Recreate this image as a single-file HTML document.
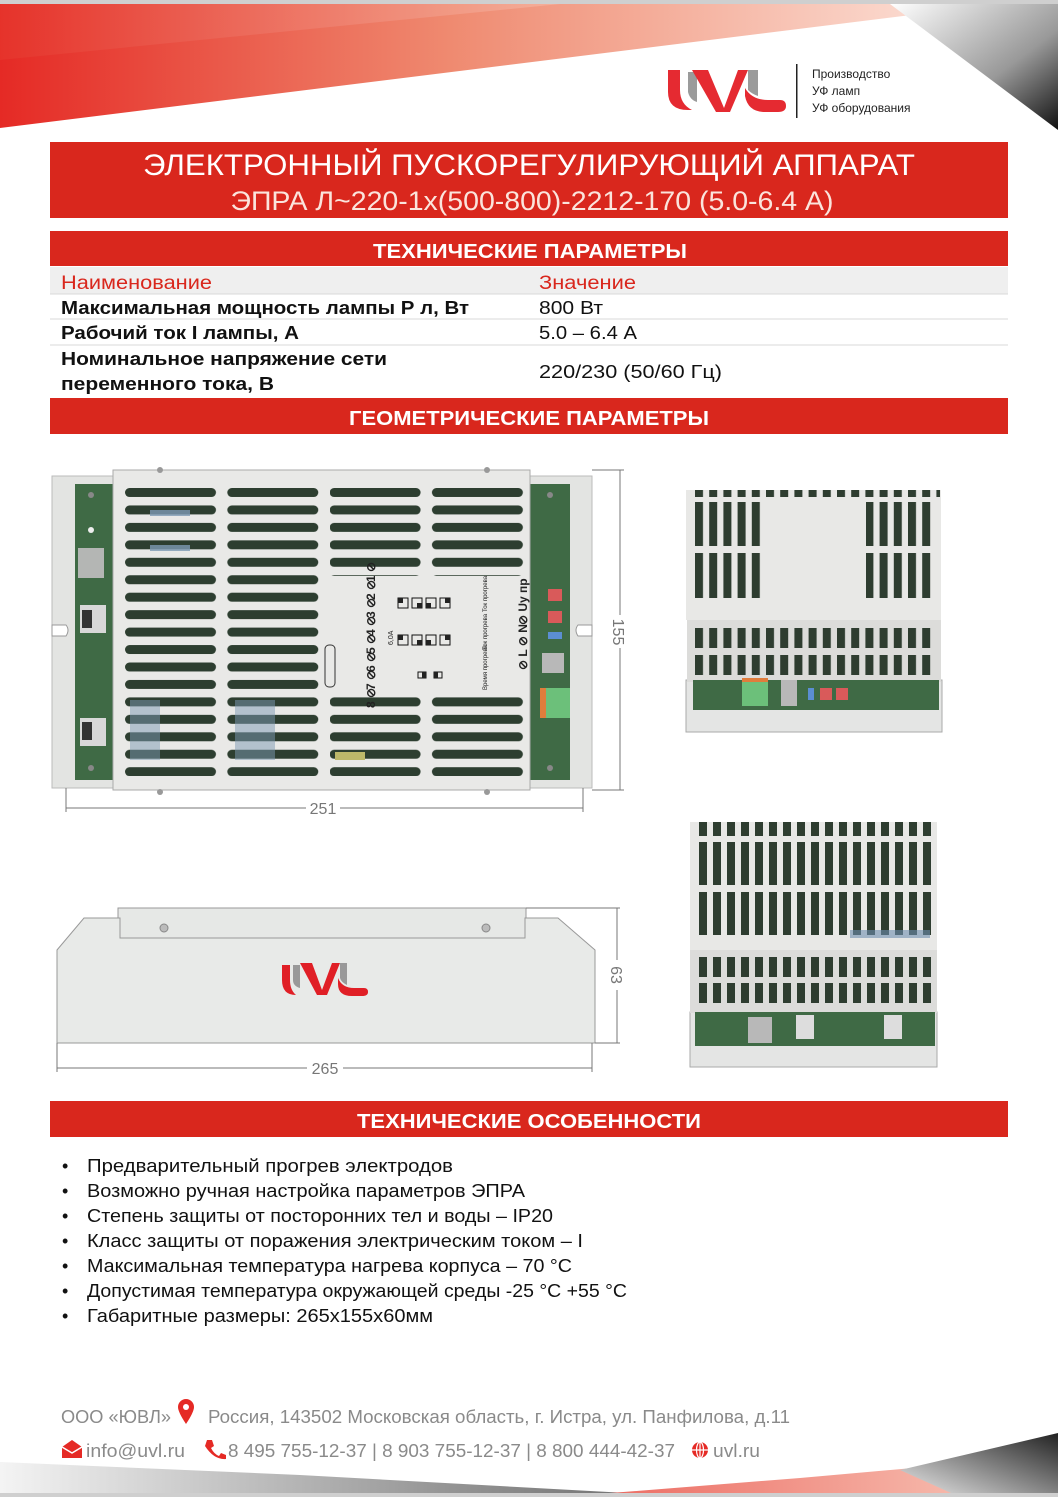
<!DOCTYPE html>
<html><head><meta charset="utf-8"><style>
html,body{margin:0;padding:0;background:#fff}
svg{display:block}
text{font-family:"Liberation Sans",sans-serif}
</style></head><body>
<svg width="1058" height="1497" viewBox="0 0 1058 1497" xmlns="http://www.w3.org/2000/svg">
<defs>
<linearGradient id="rg" x1="0" y1="0" x2="1" y2="0">
<stop offset="0" stop-color="#e52a25"/><stop offset="0.45" stop-color="#ef8a70"/><stop offset="1" stop-color="#fde8e0"/></linearGradient>
<linearGradient id="rg2" x1="0" y1="0" x2="1" y2="0">
<stop offset="0" stop-color="#e63b30"/><stop offset="1" stop-color="#f7c2b0"/></linearGradient>
<linearGradient id="gk" x1="0" y1="0" x2="1" y2="1">
<stop offset="0" stop-color="#ffffff"/><stop offset="0.6" stop-color="#999"/><stop offset="1" stop-color="#111"/></linearGradient>
<linearGradient id="gb" x1="0" y1="0" x2="1" y2="0">
<stop offset="0" stop-color="#f4f4f4"/><stop offset="0.6" stop-color="#9a9a9a"/><stop offset="1" stop-color="#666"/></linearGradient>
<linearGradient id="gk2" x1="0" y1="1" x2="1" y2="0">
<stop offset="0" stop-color="#eee"/><stop offset="1" stop-color="#222"/></linearGradient>
<pattern id="sl" patternUnits="userSpaceOnUse" x="125" y="488" width="102.3" height="17.45">
<rect x="0" y="0" width="91" height="9" rx="4.5" fill="#2d3e30"/></pattern>
<pattern id="vs" patternUnits="userSpaceOnUse" x="695" y="0" width="14.2" height="2000">
<rect x="0" y="0" width="8" height="2000" fill="#2e3d30"/></pattern>
<pattern id="vs2" patternUnits="userSpaceOnUse" x="699" y="0" width="14" height="2000">
<rect x="0" y="0" width="8" height="2000" fill="#2e3d30"/></pattern>
</defs>

<!-- top decoration -->
<rect x="0" y="0" width="1058" height="4" fill="#cfcfcf"/>
<polygon points="0,4 1000,4 0,128" fill="url(#rg)"/>
<polygon points="0,4 560,4 0,60" fill="url(#rg2)" opacity="0.5"/>
<polygon points="890,4 1058,4 1058,130" fill="url(#gk)"/>

<!-- logo -->
<g>
<path d="M668 70 L668 92 Q668 110 688 110 L692 110 Q680 104 680 90 L680 70 Z" fill="#e52a31"/>
<path d="M688 72 L697 72 L697 102 Q690 100 688 92 Z" fill="#9b9b9b"/>
<path d="M692 70 L708 70 L724 108 L738 70 L748 70 L730 112 L716 112 Z" fill="#e52a31"/>
<path d="M748 70 L758 70 L758 96 Q752 94 748 90 Z" fill="#9b9b9b"/>
<path d="M745 88 Q752 100 768 100 L780 100 Q786 100 786 106 Q786 112 778 112 L765 112 Q748 112 745 96 Z" fill="#e52a31"/>
<rect x="796" y="64" width="1.5" height="54" fill="#222"/>
<text x="812" y="78" font-size="12" fill="#222">Производство</text>
<text x="812" y="95" font-size="12" fill="#222">УФ ламп</text>
<text x="812" y="112" font-size="12" fill="#222">УФ оборудования</text>
</g>

<!-- title band -->
<rect x="50" y="142" width="958" height="76" fill="#d9271d"/>
<text x="529" y="175" font-size="30" fill="#fff" text-anchor="middle" textLength="772" lengthAdjust="spacingAndGlyphs">ЭЛЕКТРОННЫЙ ПУСКОРЕГУЛИРУЮЩИЙ АППАРАТ</text>
<text x="532" y="210" font-size="27" fill="#fbe4dc" text-anchor="middle" textLength="603" lengthAdjust="spacingAndGlyphs">ЭПРА Л~220-1х(500-800)-2212-170 (5.0-6.4 А)</text>

<!-- tech params -->
<rect x="50" y="231" width="958" height="35" fill="#d9271d"/>
<text x="530" y="258" font-size="20" font-weight="bold" fill="#fff" text-anchor="middle" textLength="314" lengthAdjust="spacingAndGlyphs">ТЕХНИЧЕСКИЕ ПАРАМЕТРЫ</text>
<rect x="50" y="267" width="958" height="27" fill="#efefef"/>
<line x1="50" y1="294" x2="1008" y2="294" stroke="#d8d8d8"/>
<line x1="50" y1="319" x2="1008" y2="319" stroke="#d8d8d8"/>
<line x1="50" y1="345" x2="1008" y2="345" stroke="#d8d8d8"/>
<text x="61" y="289" font-size="19" fill="#d9271d" textLength="151" lengthAdjust="spacingAndGlyphs">Наименование</text>
<text x="539" y="289" font-size="19" fill="#d9271d" textLength="97" lengthAdjust="spacingAndGlyphs">Значение</text>
<g font-size="18" fill="#111" font-weight="bold">
<text x="61" y="314" textLength="408" lengthAdjust="spacingAndGlyphs">Максимальная мощность лампы Р л, Вт</text>
<text x="61" y="339" textLength="238" lengthAdjust="spacingAndGlyphs">Рабочий ток I лампы, А</text>
<text x="61" y="365" textLength="326" lengthAdjust="spacingAndGlyphs">Номинальное напряжение сети</text>
<text x="61" y="390" textLength="213" lengthAdjust="spacingAndGlyphs">переменного тока, В</text>
</g>
<g font-size="18" fill="#111">
<text x="539" y="314" textLength="64" lengthAdjust="spacingAndGlyphs">800 Вт</text>
<text x="539" y="339" textLength="98" lengthAdjust="spacingAndGlyphs">5.0 – 6.4 А</text>
<text x="539" y="378" textLength="183" lengthAdjust="spacingAndGlyphs">220/230 (50/60 Гц)</text>
</g>
<rect x="50" y="398" width="958" height="36" fill="#d9271d"/>
<text x="529" y="425" font-size="20" font-weight="bold" fill="#fff" text-anchor="middle" textLength="360" lengthAdjust="spacingAndGlyphs">ГЕОМЕТРИЧЕСКИЕ ПАРАМЕТРЫ</text>

<!-- top view drawing -->
<g>
<rect x="52" y="476" width="540" height="312" fill="#e3e4e2" stroke="#bbb"/>
<rect x="75" y="484" width="40" height="296" fill="#3f6a45"/>
<rect x="530" y="484" width="40" height="296" fill="#3f6a45"/>
<rect x="113" y="470" width="417" height="320" fill="#e9e9e7" stroke="#aaa"/>
<rect x="125" y="488" width="195" height="288" fill="url(#sl)"/>
<rect x="330" y="488" width="195" height="88" fill="url(#sl)"/>
<rect x="330" y="697" width="195" height="79" fill="url(#sl)"/>
<rect x="150" y="510" width="40" height="6" fill="#7d9ab4" opacity="0.8"/>
<rect x="150" y="545" width="40" height="6" fill="#7d9ab4" opacity="0.8"/>
<rect x="130" y="700" width="30" height="60" fill="#7d9ab4" opacity="0.5"/>
<rect x="235" y="700" width="40" height="60" fill="#7d9ab4" opacity="0.5"/>
<rect x="335" y="752" width="30" height="8" fill="#bdb86a"/>
<g fill="#222" font-size="11">
<text x="393" y="645" font-size="7" transform="rotate(-90 393 645)">6,0А</text>
<rect x="398" y="598" width="10" height="10" fill="none" stroke="#111"/><rect x="398" y="598" width="5" height="5"/>
<rect x="412" y="598" width="10" height="10" fill="none" stroke="#111"/><rect x="417" y="603" width="5" height="5"/>
<rect x="426" y="598" width="10" height="10" fill="none" stroke="#111"/><rect x="426" y="603" width="5" height="5"/>
<rect x="440" y="598" width="10" height="10" fill="none" stroke="#111"/><rect x="445" y="598" width="5" height="5"/>
<rect x="398" y="635" width="10" height="10" fill="none" stroke="#111"/><rect x="398" y="635" width="5" height="5"/>
<rect x="412" y="635" width="10" height="10" fill="none" stroke="#111"/><rect x="417" y="640" width="5" height="5"/>
<rect x="426" y="635" width="10" height="10" fill="none" stroke="#111"/><rect x="426" y="640" width="5" height="5"/>
<rect x="440" y="635" width="10" height="10" fill="none" stroke="#111"/><rect x="445" y="635" width="5" height="5"/>
<rect x="418" y="672" width="8" height="6" fill="none" stroke="#111"/><rect x="422" y="672" width="4" height="6"/>
<rect x="434" y="672" width="8" height="6" fill="none" stroke="#111"/><rect x="434" y="672" width="4" height="6"/>
<rect x="325" y="645" width="10" height="42" rx="4" fill="none" stroke="#333"/>
<g font-size="12" font-weight="bold">
<text x="375" y="582" transform="rotate(-90 375 582)">1 ⊘</text>
<text x="375" y="600" transform="rotate(-90 375 600)">2 ⊘</text>
<text x="375" y="618" transform="rotate(-90 375 618)">3 ⊘</text>
<text x="375" y="636" transform="rotate(-90 375 636)">4 ⊘</text>
<text x="375" y="654" transform="rotate(-90 375 654)">5 ⊘</text>
<text x="375" y="672" transform="rotate(-90 375 672)">6 ⊘</text>
<text x="375" y="690" transform="rotate(-90 375 690)">7 ⊘</text>
<text x="375" y="708" transform="rotate(-90 375 708)">8 ⊘</text>
<text x="527" y="625" transform="rotate(-90 527 625)">⊘ Uу пр</text>
<text x="527" y="670" transform="rotate(-90 527 670)">⊘ L ⊘ N</text>
</g>
<text x="487" y="612" font-size="6" transform="rotate(-90 487 612)">Ток прогрева</text>
<text x="487" y="650" font-size="6" transform="rotate(-90 487 650)">Ток прогрева</text>
<text x="487" y="690" font-size="6" transform="rotate(-90 487 690)">Время прогрева</text>
</g>
<rect x="78" y="548" width="26" height="30" fill="#b4b6b4"/>
<rect x="80" y="605" width="26" height="28" fill="#d8d8d8"/><rect x="82" y="610" width="10" height="18" fill="#333"/>
<rect x="80" y="718" width="26" height="28" fill="#d8d8d8"/><rect x="82" y="722" width="10" height="18" fill="#333"/>
<rect x="548" y="589" width="14" height="12" fill="#d95a5a"/>
<rect x="548" y="611" width="14" height="12" fill="#d95a5a"/>
<rect x="548" y="632" width="14" height="7" fill="#5b8ed2"/>
<rect x="542" y="653" width="22" height="20" fill="#b8b8b8"/>
<rect x="540" y="688" width="30" height="30" fill="#6cc07a"/><rect x="540" y="688" width="6" height="30" fill="#e07d3c"/>
<circle cx="91" cy="495" r="3" fill="#888"/><circle cx="91" cy="768" r="3" fill="#888"/>
<circle cx="550" cy="495" r="3" fill="#888"/><circle cx="550" cy="768" r="3" fill="#888"/>
<circle cx="91" cy="530" r="3" fill="#eee"/>
<path d="M52 625 L66 625 Q70 630 66 636 L52 636 Z" fill="#fff" stroke="#999"/>
<path d="M592 625 L578 625 Q574 630 578 636 L592 636 Z" fill="#fff" stroke="#999"/>
<circle cx="160" cy="470" r="3" fill="#999"/><circle cx="487" cy="470" r="3" fill="#999"/>
<circle cx="160" cy="792" r="3" fill="#999"/><circle cx="487" cy="792" r="3" fill="#999"/>
<g stroke="#777" stroke-width="1" fill="none">
<line x1="66" y1="788" x2="66" y2="812"/><line x1="583" y1="788" x2="583" y2="812"/>
<line x1="66" y1="808" x2="306" y2="808"/><line x1="340" y1="808" x2="583" y2="808"/>
<line x1="592" y1="470" x2="624" y2="470"/><line x1="592" y1="790" x2="624" y2="790"/>
<line x1="620" y1="470" x2="620" y2="615"/><line x1="620" y1="648" x2="620" y2="790"/>
</g>
<text x="323" y="814" font-size="16" fill="#777" text-anchor="middle">251</text>
<text x="613" y="632" font-size="16" fill="#777" text-anchor="middle" transform="rotate(90 613 632)">155</text>
</g>

<!-- side view -->
<g>
<rect x="118" y="908" width="408" height="30" fill="#e6e8e6" stroke="#999"/>
<polygon points="57,950 84,918 120,918 120,938 525,938 525,918 558,918 595,950 595,1043 57,1043" fill="#e8eae8" stroke="#999"/>
<circle cx="164" cy="928" r="4" fill="#bbb" stroke="#888"/><circle cx="486" cy="928" r="4" fill="#bbb" stroke="#888"/>
<path d="M282 965 L282 980 Q282 995 296 995 Q290 990 290 980 L290 965 Z" fill="#e01f26"/>
<path d="M293 965 L300 965 L300 988 Q293 986 293 980 Z" fill="#999"/>
<path d="M300 963 L312 963 L322 990 L332 963 L340 963 L327 995 L317 995 Z" fill="#e01f26"/>
<path d="M340 963 L347 963 L347 985 Q341 982 340 978 Z" fill="#999"/>
<path d="M338 978 Q342 988 354 988 L364 988 Q368 988 368 992 Q368 996 362 996 L352 996 Q338 996 338 984 Z" fill="#e01f26"/>
<g stroke="#777" fill="none">
<line x1="57" y1="1043" x2="57" y2="1072"/><line x1="592" y1="1043" x2="592" y2="1072"/>
<line x1="57" y1="1068" x2="307" y2="1068"/><line x1="343" y1="1068" x2="592" y2="1068"/>
<line x1="526" y1="908" x2="620" y2="908"/><line x1="595" y1="1043" x2="620" y2="1043"/>
<line x1="617" y1="908" x2="617" y2="960"/><line x1="617" y1="990" x2="617" y2="1043"/>
</g>
<text x="325" y="1074" font-size="16" fill="#777" text-anchor="middle">265</text>
<text x="611" y="975" font-size="16" fill="#777" text-anchor="middle" transform="rotate(90 611 975)">63</text>
</g>

<!-- right top view -->
<g>
<rect x="686" y="680" width="256" height="52" fill="#e4e5e4" stroke="#aaa"/>
<rect x="686" y="490" width="255" height="130" fill="#e8e8e6"/>
<rect x="695" y="490" width="245" height="7" fill="url(#vs)"/>
<rect x="695" y="502" width="68" height="44" fill="url(#vs)"/>
<rect x="695" y="553" width="68" height="45" fill="url(#vs)"/>
<rect x="866" y="502" width="70" height="44" fill="url(#vs)"/>
<rect x="866" y="553" width="70" height="45" fill="url(#vs)"/>
<rect x="687" y="620" width="254" height="62" fill="#dcdcda"/>
<rect x="695" y="628" width="240" height="20" fill="url(#vs)"/>
<rect x="695" y="655" width="240" height="20" fill="url(#vs)"/>
<rect x="693" y="680" width="246" height="30" fill="#3f6a45"/>
<rect x="742" y="680" width="26" height="26" fill="#6cc07a"/><rect x="742" y="678" width="26" height="4" fill="#e07d3c"/>
<rect x="781" y="680" width="16" height="26" fill="#b8b8b8"/>
<rect x="808" y="688" width="6" height="12" fill="#5b8ed2"/>
<rect x="820" y="688" width="12" height="12" fill="#d95a5a"/>
<rect x="836" y="688" width="12" height="12" fill="#d95a5a"/>
</g>

<!-- right bottom view -->
<g>
<rect x="690" y="1012" width="247" height="55" fill="#e4e5e4" stroke="#aaa"/>
<rect x="690" y="822" width="247" height="130" fill="#e8e8e6"/>
<rect x="699" y="822" width="235" height="14" fill="url(#vs2)"/>
<rect x="699" y="842" width="235" height="43" fill="url(#vs2)"/>
<rect x="699" y="892" width="235" height="43" fill="url(#vs2)"/>
<rect x="690" y="950" width="247" height="63" fill="#dcdcda"/>
<rect x="699" y="957" width="235" height="20" fill="url(#vs2)"/>
<rect x="699" y="983" width="235" height="20" fill="url(#vs2)"/>
<rect x="850" y="930" width="80" height="8" fill="#6f8fb0" opacity="0.6"/>
<rect x="695" y="1012" width="240" height="34" fill="#3f6a45"/>
<rect x="748" y="1017" width="24" height="26" fill="#b8b8b8"/>
<rect x="796" y="1015" width="18" height="24" fill="#ddd"/>
<rect x="884" y="1015" width="18" height="24" fill="#ddd"/>
</g>

<!-- features -->
<rect x="50" y="1101" width="958" height="36" fill="#d9271d"/>
<text x="529" y="1128" font-size="20" font-weight="bold" fill="#fff" text-anchor="middle" textLength="344" lengthAdjust="spacingAndGlyphs">ТЕХНИЧЕСКИЕ ОСОБЕННОСТИ</text>
<g font-size="18" fill="#111">
<text x="62" y="1172">•</text><text x="87" y="1172" textLength="366" lengthAdjust="spacingAndGlyphs">Предварительный прогрев электродов</text>
<text x="62" y="1197">•</text><text x="87" y="1197" textLength="438" lengthAdjust="spacingAndGlyphs">Возможно ручная настройка параметров ЭПРА</text>
<text x="62" y="1222">•</text><text x="87" y="1222" textLength="466" lengthAdjust="spacingAndGlyphs">Степень защиты от посторонних тел и воды – IP20</text>
<text x="62" y="1247">•</text><text x="87" y="1247" textLength="496" lengthAdjust="spacingAndGlyphs">Класс защиты от поражения электрическим током – I</text>
<text x="62" y="1272">•</text><text x="87" y="1272" textLength="485" lengthAdjust="spacingAndGlyphs">Максимальная температура нагрева корпуса – 70  °C</text>
<text x="62" y="1297">•</text><text x="87" y="1297" textLength="540" lengthAdjust="spacingAndGlyphs">Допустимая температура окружающей среды -25 °C +55 °C</text>
<text x="62" y="1322">•</text><text x="87" y="1322" textLength="346" lengthAdjust="spacingAndGlyphs">Габаритные размеры: 265х155х60мм</text>
</g>

<!-- footer -->
<g font-size="18" fill="#8a8a8a">
<text x="61" y="1423" textLength="110" lengthAdjust="spacingAndGlyphs">ООО «ЮВЛ»</text>
<path d="M186 1424 Q178 1412 178 1407 A8 8 0 0 1 194 1407 Q194 1412 186 1424 Z" fill="#e52a25"/><circle cx="186" cy="1407" r="3" fill="#fff"/>
<text x="208" y="1423" textLength="582" lengthAdjust="spacingAndGlyphs">Россия, 143502  Московская область, г. Истра, ул. Панфилова, д.11</text>
<path d="M62 1447 L72 1440 L82 1447 L82 1458 L62 1458 Z" fill="#e52a25"/><path d="M62 1447 L72 1453 L82 1447" stroke="#fff" fill="none" stroke-width="1.5"/>
<text x="86" y="1457" textLength="99" lengthAdjust="spacingAndGlyphs">info@uvl.ru</text>
<path d="M207 1440 L212 1440 L214 1446 L211 1448 Q214 1454 219 1456 L221 1453 L226 1455 L226 1459 Q214 1460 205 1446 Z" fill="#e52a25"/>
<text x="228" y="1457" textLength="447" lengthAdjust="spacingAndGlyphs">8 495 755-12-37  |  8 903 755-12-37  |  8 800 444-42-37</text>
<circle cx="700" cy="1450" r="8" fill="#e52a25"/><path d="M692 1450 H708 M700 1442 V1458" stroke="#fff" stroke-width="1.2"/><ellipse cx="700" cy="1450" rx="3.5" ry="8" fill="none" stroke="#fff" stroke-width="1.2"/>
<text x="713" y="1457" textLength="47" lengthAdjust="spacingAndGlyphs">uvl.ru</text>
</g>
<polygon points="0,1462 300,1475 700,1497 0,1497" fill="url(#gb)"/>
<polygon points="560,1497 800,1478 1058,1455 1058,1497" fill="url(#rg2)" opacity="0.8"/>
<polygon points="900,1470 1058,1433 1058,1497 960,1497" fill="url(#gk2)"/>
<rect x="0" y="1493" width="1058" height="4" fill="#cfcfcf"/>
</svg>
</body></html>
